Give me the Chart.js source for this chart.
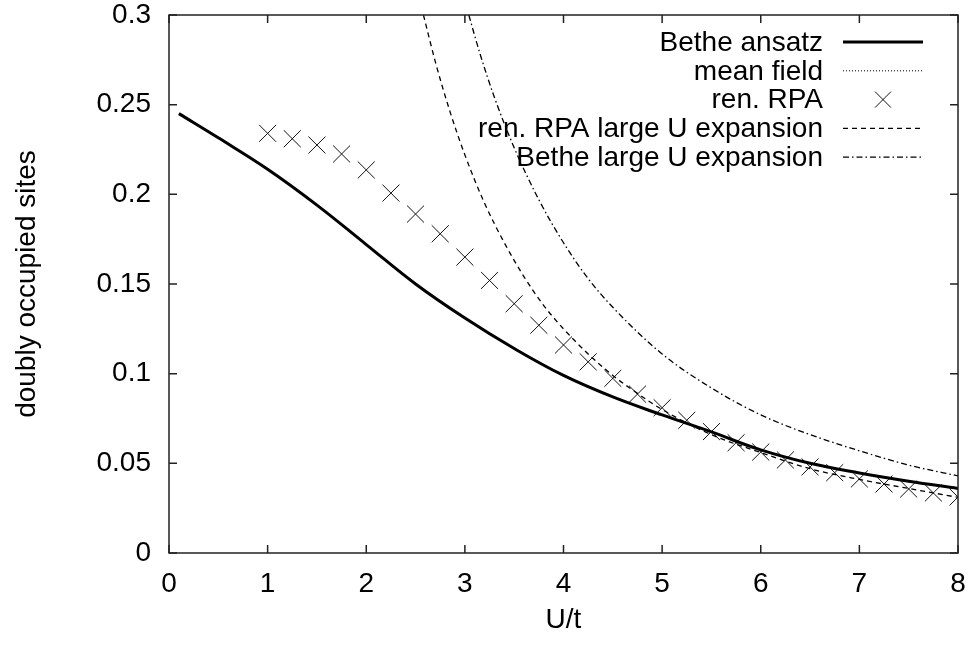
<!doctype html>
<html lang="en">
  <head>
    <meta charset="utf-8">
    <title> doubly occupied sites </title>
    <script src="https://cdn.jsdelivr.net/npm/chart.js@4.4.0/dist/chart.umd.min.js"></script>
  </head>

  <style>
    body {
      margin: 0;
      background-color: #ffffff;
    }
    #box {
      width: 971px;
      height: 647px;
    }
  </style>

  <body>
  <div id="box">
    <canvas id="dGraph"></canvas>
  </div>

  <script>
    // Bethe ansatz
    var betheU = [0.1, 0.5, 1, 1.5, 2, 2.5, 3, 3.5, 4, 4.5, 5, 5.5, 6, 6.5, 7, 7.5, 8];
    var betheD = [0.245, 0.2315, 0.214, 0.194, 0.172, 0.150, 0.131, 0.114, 0.099, 0.087, 0.077, 0.0675, 0.0575, 0.050, 0.0446, 0.040, 0.036];
    // mean field (nothing visible inside the frame)
    var mfU = [];
    var mfD = [];
    // ren. RPA points
    var rpaU = [1, 1.25, 1.5, 1.75, 2, 2.25, 2.5, 2.75, 3, 3.25, 3.5, 3.75, 4, 4.25, 4.5, 4.75, 5, 5.25, 5.5, 5.75, 6, 6.25, 6.5, 6.75, 7, 7.25, 7.5, 7.75, 8];
    var rpaD = [0.234, 0.231, 0.2275, 0.2225, 0.2136, 0.2007, 0.189, 0.178, 0.165, 0.152, 0.139, 0.127, 0.116, 0.1066, 0.0974, 0.0886, 0.081, 0.074, 0.0677, 0.0615, 0.0563, 0.0519, 0.048, 0.0448, 0.0413, 0.0385, 0.0357, 0.0335, 0.0312];
    // ren. RPA large U expansion
    var rpaLargeU = [2.58, 2.7, 2.85, 3.0, 3.2, 3.4, 3.6, 3.8, 4.0, 4.25, 4.5, 4.75, 5.0, 5.5, 6.0, 6.5, 7.0, 7.5, 8.0];
    var rpaLargeD = [0.300, 0.274, 0.246, 0.222, 0.195, 0.173, 0.154, 0.138, 0.125, 0.111, 0.099, 0.089, 0.080, 0.066, 0.056, 0.047, 0.041, 0.036, 0.031];
    // Bethe large U expansion
    var betheLargeU = [3.04, 3.15, 3.3, 3.5, 3.75, 4.0, 4.25, 4.5, 5.0, 5.5, 6.0, 6.5, 7.0, 7.5, 8.0];
    var betheLargeD = [0.300, 0.279, 0.254, 0.226, 0.197, 0.173, 0.153, 0.137, 0.111, 0.092, 0.077, 0.066, 0.057, 0.049, 0.043];

    var xTicks = [0, 1, 2, 3, 4, 5, 6, 7, 8];
    var yTicks = [0, 0.05, 0.1, 0.15, 0.2, 0.25, 0.3];

    function pts(xs, ys) {
      return xs.map(function(x, i) { return {x: x, y: ys[i]}; });
    }

    var fontFam = '"Liberation Sans", Arial, sans-serif';
    var ink = '#000000';

    function noPad(s) {
      s.paddingTop = 0;
      s.paddingBottom = 0;
      s.paddingLeft = 0;
      s.paddingRight = 0;
    }

    // frame with inward ticks, mirrored on top and right
    const framePlugin = {
      id: 'frame',
      afterDraw(chart) {
        const ctx = chart.ctx;
        const a = chart.chartArea;
        const xs = chart.scales.x;
        const ys = chart.scales.y;
        const tl = 8;
        ctx.save();
        ctx.strokeStyle = '#222222';
        ctx.lineWidth = 1.5;
        ctx.strokeRect(a.left, a.top, a.right - a.left, a.bottom - a.top);
        ctx.beginPath();
        xTicks.forEach(function(v) {
          const px = xs.getPixelForValue(v);
          ctx.moveTo(px, a.bottom); ctx.lineTo(px, a.bottom - tl);
          ctx.moveTo(px, a.top); ctx.lineTo(px, a.top + tl);
        });
        yTicks.forEach(function(v) {
          const py = ys.getPixelForValue(v);
          ctx.moveTo(a.left, py); ctx.lineTo(a.left + tl, py);
          ctx.moveTo(a.right, py); ctx.lineTo(a.right - tl, py);
        });
        ctx.stroke();
        ctx.restore();
      }
    };

    // gnuplot style key: text right aligned, sample on the right
    const keyPlugin = {
      id: 'key',
      afterDraw(chart) {
        const ctx = chart.ctx;
        const textRight = 823;
        const s0 = 843, s1 = 923;
        const y0 = 42, dy = 28.8;
        ctx.save();
        ctx.font = '28px ' + fontFam;
        ctx.textAlign = 'right';
        ctx.textBaseline = 'middle';
        chart.data.datasets.forEach(function(ds, i) {
          const y = y0 + i * dy;
          ctx.fillStyle = ink;
          ctx.fillText(ds.label, textRight, y + 1);
          ctx.strokeStyle = ds.borderColor;
          if (ds.showLine === false) {
            const r = 8;
            const cx = (s0 + s1) / 2;
            ctx.lineWidth = 1;
            ctx.setLineDash([]);
            ctx.beginPath();
            ctx.moveTo(cx - r, y - r); ctx.lineTo(cx + r, y + r);
            ctx.moveTo(cx - r, y + r); ctx.lineTo(cx + r, y - r);
            ctx.stroke();
          } else {
            ctx.lineWidth = ds.borderWidth;
            ctx.setLineDash(ds.borderDash || []);
            ctx.beginPath();
            ctx.moveTo(s0, y); ctx.lineTo(s1, y);
            ctx.stroke();
          }
        });
        ctx.restore();
      }
    };

    const ddata = {
      datasets: [{
          label: 'Bethe ansatz',
          data: pts(betheU, betheD),
          borderColor: ink,
          borderWidth: 3,
          pointRadius: 0,
          tension: 0.4
        },
        {
          label: 'mean field',
          data: pts(mfU, mfD),
          borderColor: ink,
          borderWidth: 1,
          borderDash: [1, 2],
          pointRadius: 0
        },
        {
          label: 'ren. RPA',
          data: pts(rpaU, rpaD),
          borderColor: '#111111',
          showLine: false,
          pointStyle: 'crossRot',
          pointRadius: 12,
          pointBorderWidth: 1,
          pointBorderColor: '#111111'
        },
        {
          label: 'ren. RPA large U expansion',
          data: pts(rpaLargeU, rpaLargeD),
          borderColor: ink,
          borderWidth: 1.3,
          borderDash: [5, 4],
          pointRadius: 0,
          cubicInterpolationMode: 'monotone'
        },
        {
          label: 'Bethe large U expansion',
          data: pts(betheLargeU, betheLargeD),
          borderColor: ink,
          borderWidth: 1.3,
          borderDash: [6, 3, 1.5, 3],
          pointRadius: 0,
          cubicInterpolationMode: 'monotone'
        }
      ]
    };

    const dconfig = {
      type: 'line',
      data: ddata,
      plugins: [framePlugin, keyPlugin],
      options: {
        responsive: true,
        maintainAspectRatio: false,
        animation: false,
        layout: {
          padding: {left: 0, right: 12, top: 15, bottom: 0}
        },
        plugins: {
          legend: { display: false },
          tooltip: { enabled: false }
        },
        scales: {
          x: {
            type: 'linear',
            min: 0,
            max: 8,
            afterBuildTicks: function(s) { s.ticks = xTicks.map(function(v) { return {value: v}; }); },
            afterFit: function(s) { s.height = 94; noPad(s); },
            grid: { display: false, drawTicks: false },
            border: { display: false },
            ticks: {
              color: ink,
              padding: 14,
              maxRotation: 0,
              font: { family: fontFam, size: 28 }
            },
            title: {
              display: true,
              text: 'U/t',
              color: ink,
              padding: {top: 0, bottom: 10},
              font: { family: fontFam, size: 28 }
            }
          },
          y: {
            type: 'linear',
            min: 0,
            max: 0.3,
            afterBuildTicks: function(s) { s.ticks = yTicks.map(function(v) { return {value: v}; }); },
            afterFit: function(s) { s.width = 169; noPad(s); },
            grid: { display: false, drawTicks: false },
            border: { display: false },
            ticks: {
              color: ink,
              padding: 18,
              font: { family: fontFam, size: 28 },
              callback: function(v) { return String(+v.toFixed(2)); }
            },
            title: {
              display: true,
              text: 'doubly occupied sites',
              color: ink,
              padding: {top: 10, bottom: 0},
              font: { family: fontFam, size: 28 }
            }
          }
        }
      }
    };

    var renderDGraph = new Chart(document.getElementById('dGraph'), dconfig);
  </script>
  </body>
</html>
